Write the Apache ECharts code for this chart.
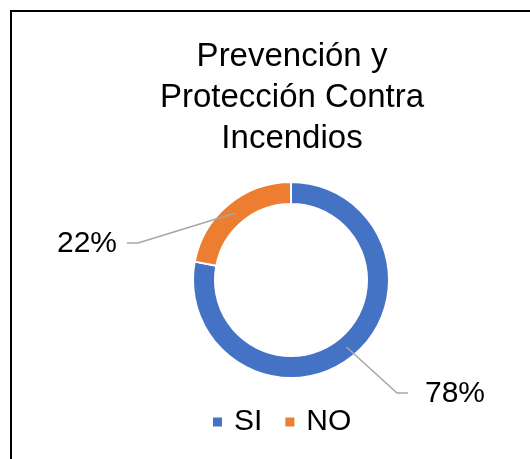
<!DOCTYPE html>
<html>
<head>
<meta charset="utf-8">
<title>Prevención y Protección Contra Incendios</title>
<script src="https://cdn.jsdelivr.net/npm/echarts@6/dist/echarts.min.js"></script>
<style>
  html, body { margin: 0; padding: 0; background: #fff; }
  #chart { width: 530px; height: 459px; }
</style>
</head>
<body>
<div id="chart"></div>
<script>
// datos del gráfico
const titulo = 'Prevención y\nProtección Contra\nIncendios';
const categorias = ['SI', 'NO'];
const valores = [78, 22];
const colores = ['#4472C4', '#ED7D31'];

// posición de las etiquetas (estilo Excel: línea recta hasta el texto)
const etiquetas = [
  { x: 425, y: 394, align: 'left', gap: 17, tramo: 11 },
  { x: 117, y: 244, align: 'right', gap: 10, tramo: 11 }
];

const centro = [291, 280];
const radio = [76, 98];

const datos = categorias.map(function (n, i) {
  return { name: n, value: valores[i] };
});

const chart = echarts.init(document.getElementById('chart'));

const option = {
  animation: false,
  textStyle: { fontFamily: 'Liberation Sans, Arial, sans-serif' },
  color: colores,
  title: {
    text: titulo,
    left: 292,
    top: 36,
    padding: 0,
    textAlign: 'center',
    textStyle: {
      fontSize: 33,
      lineHeight: 41,
      fontWeight: 'normal',
      color: '#000'
    }
  },
  legend: {
    data: categorias,
    left: 211,
    top: 407,
    padding: 0,
    icon: 'rect',
    itemWidth: 11,
    itemHeight: 11,
    itemGap: 21,
    textStyle: { fontSize: 30, color: '#000', padding: [0, 0, 0, 6] }
  },
  graphic: [{
    type: 'rect',
    shape: { x: 11, y: 11, width: 700, height: 700 },
    style: { fill: 'none', stroke: '#000', lineWidth: 2 },
    silent: true
  }],
  series: [
    {
      // anillo
      type: 'pie',
      z: 2,
      center: centro,
      radius: radio,
      startAngle: 90,
      clockwise: true,
      itemStyle: { borderColor: '#fff', borderWidth: 2 },
      label: { show: false },
      labelLine: { show: false },
      data: datos
    },
    {
      // etiquetas encima del anillo
      type: 'pie',
      z: 5,
      silent: true,
      legendHoverLink: false,
      center: centro,
      radius: radio,
      startAngle: 90,
      clockwise: true,
      avoidLabelOverlap: false,
      itemStyle: { color: 'rgba(0,0,0,0)', borderWidth: 0 },
      label: {
        show: true,
        formatter: '{d}%',
        fontSize: 30,
        color: '#000'
      },
      labelLine: {
        show: true,
        showAbove: true,
        length: 20,
        length2: 10,
        lineStyle: { color: '#A6A6A6', width: 1.5 }
      },
      labelLayout: function (params) {
        const e = etiquetas[params.dataIndex];
        const pts = params.labelLinePoints;
        let inicio = pts ? pts[0] : [0, 0];
        if (pts) {
          // mover el inicio hacia el centro del anillo
          const dx = pts[1][0] - pts[0][0];
          const dy = pts[1][1] - pts[0][1];
          const len = Math.sqrt(dx * dx + dy * dy) || 1;
          inicio = [pts[0][0] - dx / len * 11, pts[0][1] - dy / len * 11];
        }
        const dir = e.align === 'left' ? -1 : 1;
        const fin = [e.x + dir * e.gap, e.y - 1];
        const codo = [fin[0] + dir * e.tramo, e.y - 1];
        return {
          x: e.x,
          y: e.y,
          align: e.align,
          verticalAlign: 'middle',
          labelLinePoints: [inicio, codo, fin]
        };
      },
      data: datos
    }
  ]
};

chart.setOption(option);
</script>
</body>
</html>
